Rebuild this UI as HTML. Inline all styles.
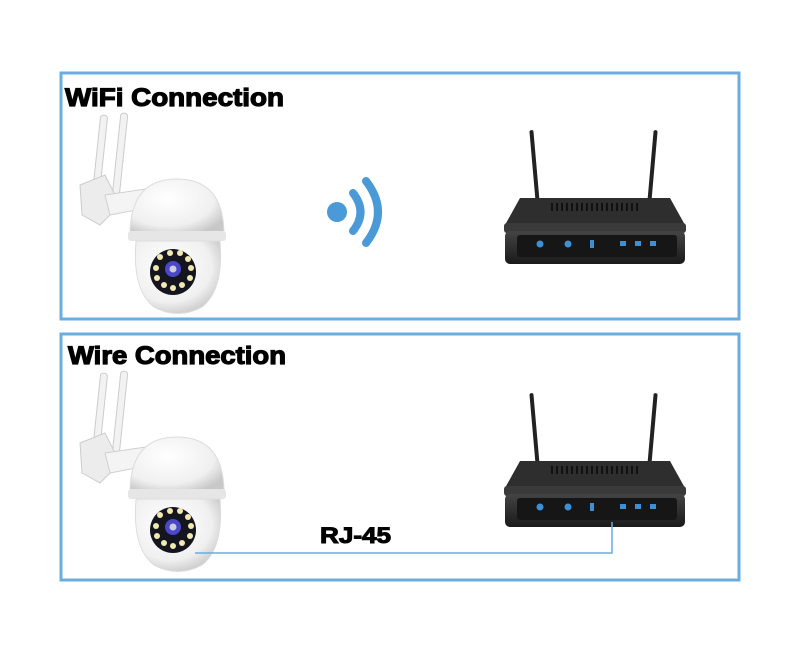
<!DOCTYPE html>
<html><head><meta charset="utf-8"><style>
html,body{margin:0;padding:0;background:#fff;}
svg{display:block;}
text{font-family:"Liberation Sans",sans-serif;font-weight:bold;fill:#000;}
</style></head><body>
<svg width="800" height="655" viewBox="0 0 800 655" xmlns="http://www.w3.org/2000/svg">
<defs>
<radialGradient id="dome" cx="0.4" cy="0.35" r="0.7">
<stop offset="0" stop-color="#ffffff"/><stop offset="0.7" stop-color="#f0f0f0"/><stop offset="1" stop-color="#c8c8c8"/></radialGradient>
<linearGradient id="rb" x1="0" y1="0" x2="0" y2="1"><stop offset="0" stop-color="#444"/><stop offset="1" stop-color="#1a1a1a"/></linearGradient>
<g id="cam">
 <rect x="36" y="40" width="7" height="90" rx="3" fill="#f2f2f2" stroke="#ccc" transform="rotate(6 40 85)"/>
 <rect x="56" y="38" width="7" height="92" rx="3" fill="#f2f2f2" stroke="#ccc" transform="rotate(6 60 85)"/>
 <path d="M20 110 L45 100 L60 130 L40 150 L22 140 Z" fill="#ececec" stroke="#ccc"/>
 <path d="M45 120 L100 112 L102 130 L50 140 Z" fill="#f4f4f4" stroke="#d0d0d0"/>
 <path d="M70 160 Q70 104 117 104 Q164 104 164 160 Z" fill="url(#dome)" stroke="#ddd"/>
 <rect x="68" y="156" width="98" height="10" rx="3" fill="#e6e6e6"/>
 <path d="M76 166 L160 166 Q164 215 142 232 Q118 245 94 232 Q72 215 76 166 Z" fill="url(#dome)" stroke="#ddd"/>
 <circle cx="113" cy="197" r="23" fill="#151520"/>
 <circle cx="113" cy="194" r="8" fill="#4a48c8"/>
 <circle cx="113" cy="194" r="3.5" fill="#ccd"/>
 <g fill="#f2e9b0">
  <circle cx="100" cy="182" r="3"/><circle cx="110" cy="178" r="3"/><circle cx="120" cy="178" r="3"/><circle cx="128" cy="184" r="3"/>
  <circle cx="96" cy="193" r="3"/><circle cx="131" cy="193" r="3"/><circle cx="97" cy="203" r="3"/><circle cx="130" cy="203" r="3"/>
  <circle cx="104" cy="210" r="3"/><circle cx="122" cy="210" r="3"/><circle cx="113" cy="213" r="3"/>
 </g>
</g>
<g id="router">
 <rect x="43" y="10" width="4" height="85" rx="2" fill="#222" transform="rotate(-5 44 52)"/>
 <rect x="160" y="10" width="4" height="85" rx="2" fill="#222" transform="rotate(5 162 52)"/>
 <path d="M30 78 L180 78 L195 105 L15 105 Z" fill="#2e2e2e"/>
 <g stroke="#111" stroke-width="2">
  <path d="M62 83v8M67 83v8M72 83v8M77 83v8M82 83v8M87 83v8M92 83v8M97 83v8M102 83v8M107 83v8M112 83v8M117 83v8M122 83v8M127 83v8M132 83v8M137 83v8M142 83v8M147 83v8"/>
 </g>
 <rect x="14" y="103" width="182" height="10" rx="3" fill="#3a3a3a"/>
 <rect x="15" y="111" width="180" height="33" rx="5" fill="url(#rb)"/>
 <rect x="27" y="115" width="160" height="22" rx="3" fill="#161616"/>
 <g fill="#3d8fd6">
  <circle cx="50" cy="124" r="3.5"/><circle cx="78" cy="124" r="3.5"/><rect x="100" y="120" width="4" height="8"/>
  <rect x="130" y="121" width="6" height="5"/><rect x="145" y="121" width="6" height="5"/><rect x="160" y="121" width="6" height="5"/>
 </g>
</g>
</defs>

<rect x="61" y="73" width="678" height="246" fill="none" stroke="#6aaee0" stroke-width="3"/>
<rect x="61" y="334" width="678" height="246" fill="none" stroke="#6aaee0" stroke-width="3"/>

<text x="65" y="106" font-size="25" stroke="#000" stroke-width="1.2" textLength="219" lengthAdjust="spacingAndGlyphs">WiFi Connection</text>
<text x="68" y="364" font-size="25" stroke="#000" stroke-width="1.2" textLength="218" lengthAdjust="spacingAndGlyphs">Wire Connection</text>

<use href="#cam" transform="translate(60,75)"/>
<use href="#cam" transform="translate(60,333)"/>

<circle cx="337" cy="212" r="10" fill="#4a9ad8"/>
<path d="M353 193 Q368 212 353 231" fill="none" stroke="#4a9ad8" stroke-width="8" stroke-linecap="round"/>
<path d="M366 181 Q390 212 366 243" fill="none" stroke="#4a9ad8" stroke-width="8" stroke-linecap="round"/>

<use href="#router" transform="translate(490,120)"/>
<use href="#router" transform="translate(490,383)"/>

<path d="M195 553 L612 553 L612 522" fill="none" stroke="#6aaee0" stroke-width="1.5"/>
<text x="320" y="543" font-size="22" stroke="#000" stroke-width="1" textLength="71" lengthAdjust="spacingAndGlyphs">RJ-45</text>
</svg>
</body></html>
